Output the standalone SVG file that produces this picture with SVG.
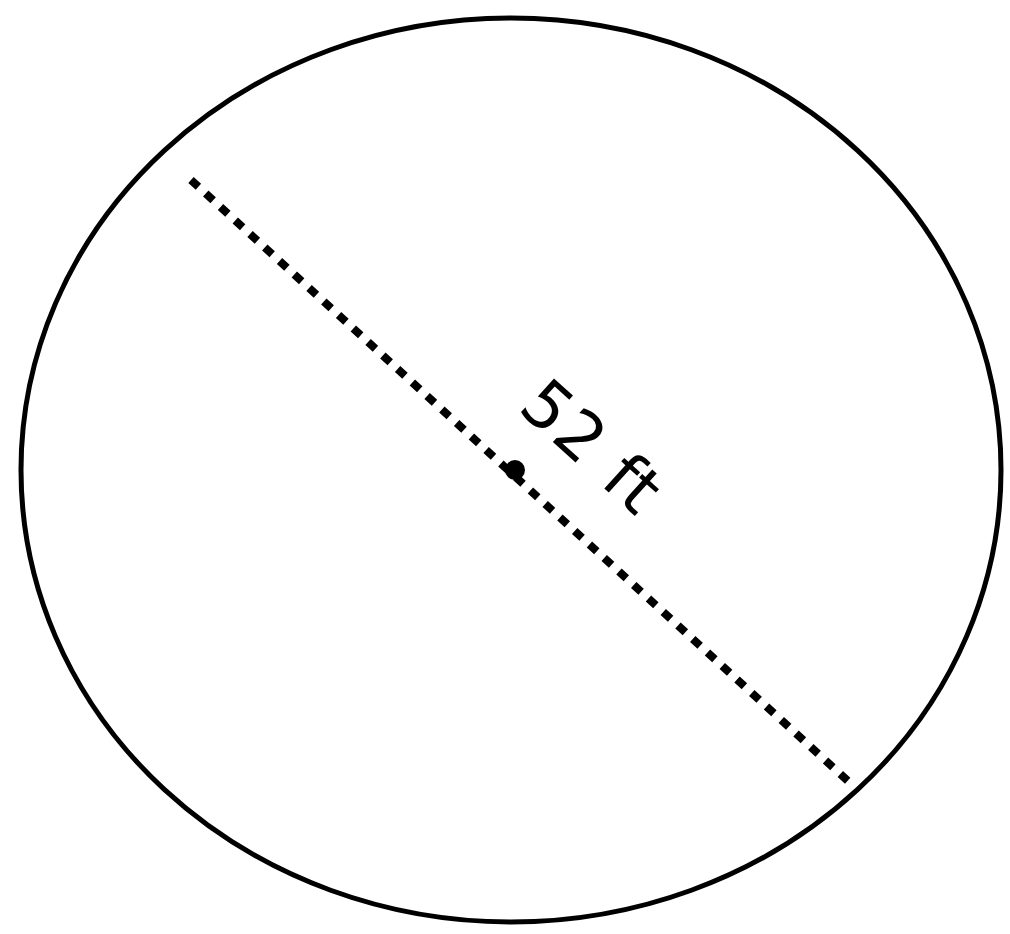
<svg xmlns="http://www.w3.org/2000/svg" width="1010" height="934" viewBox="0 0 1010 934">
<style>
.outline{fill:none;stroke:#000;stroke-width:5}
.dia{stroke:#000;stroke-width:8;stroke-dasharray:10 10;fill:none}
.lbl{font-family:"DejaVu Sans",sans-serif;font-size:66px;fill:#000;letter-spacing:2px}
</style>
<rect width="1010" height="934" fill="#fff"/>
<g id="circle">
<ellipse class="outline" cx="511" cy="470" rx="490" ry="452"/>
</g>
<g id="connectors">
<line class="dia" x1="191" y1="180" x2="848" y2="781"/>
</g>
<g id="center">
<circle cx="515" cy="470" r="10" fill="#000"/>
</g>
<g id="label">
<text class="lbl" transform="translate(515,470) rotate(42)" x="42" y="-46" text-anchor="middle">52 ft</text>
</g>
</svg>
